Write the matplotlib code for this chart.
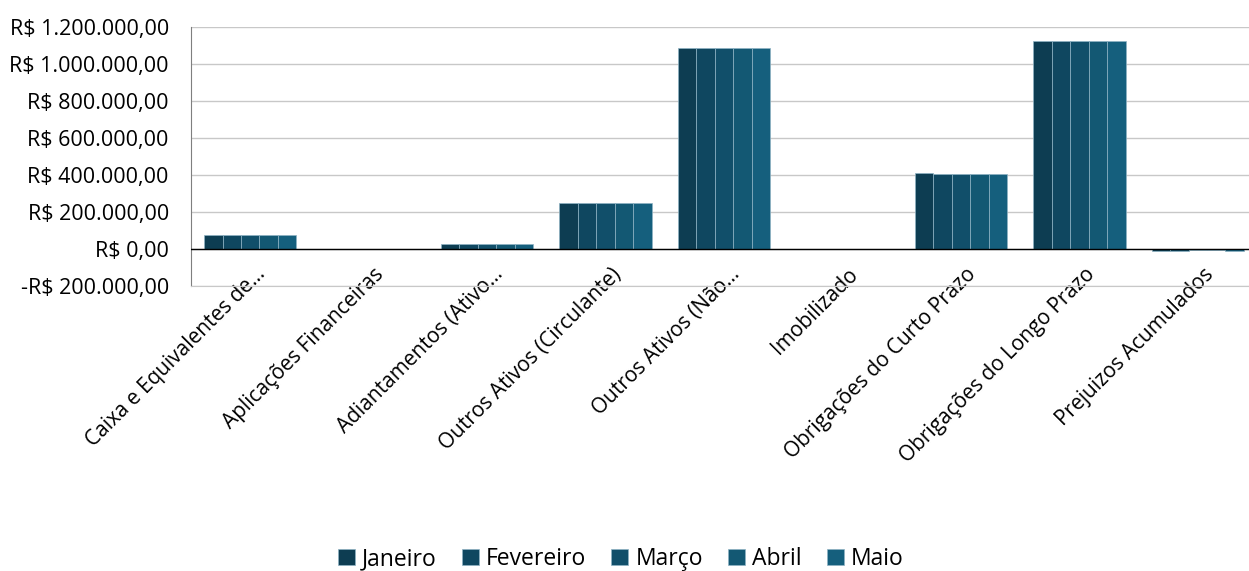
import numpy as np
from matplotlib import pyplot as plt
from matplotlib.ticker import FuncFormatter
from matplotlib.transforms import ScaledTranslation

categorias = [
    "Caixa e Equivalentes de…",
    "Aplicações Financeiras",
    "Adiantamentos (Ativo…",
    "Outros Ativos (Circulante)",
    "Outros Ativos (Não…",
    "Imobilizado",
    "Obrigações do Curto Prazo",
    "Obrigações do Longo Prazo",
    "Prejuizos Acumulados",
]
meses = ["Janeiro", "Fevereiro", "Março", "Abril", "Maio"]

janeiro = [76000, 0, 25000, 247000, 1087000, 0, 410000, 1122000, -9000]
fevereiro = [76000, 0, 25000, 247000, 1087000, 0, 408000, 1126000, -9000]
marco = [76000, 0, 25000, 247000, 1087000, 0, 408000, 1126000, -4000]
abril = [76000, 0, 25000, 247000, 1087000, 0, 408000, 1126000, -4000]
maio = [76000, 0, 25000, 247000, 1087000, 0, 408000, 1126000, -9000]
series = [janeiro, fevereiro, marco, abril, maio]

cores = ["#0d3d52", "#0f4760", "#114f6a", "#135873", "#155f7d"]

plt.rcParams['font.family'] = ['Open Sans', 'DejaVu Sans']

fig = plt.figure(figsize=(12.49, 5.71), dpi=100)
# a area do grafico passa um pouco da borda direita, como no original
ax = fig.add_axes([191 / 1249, 1 - 286 / 571, (1257 - 191) / 1249, (286 - 27) / 571])

x = np.arange(len(categorias))
largura = 0.78 / len(meses)
for i, (nome, vals) in enumerate(zip(meses, series)):
    ax.bar(x - 0.39 + largura * (i + 0.5), vals, largura, color=cores[i],
           edgecolor="#8fb3c4", linewidth=0.5, label=nome, zorder=3)

ax.set_xlim(-0.5, len(categorias) - 0.5)
ax.set_ylim(-200000, 1200000)
ax.set_yticks(np.arange(-200000, 1200001, 200000))


def reais(v, pos):
    s = f"{abs(v):,.2f}".replace(",", "X").replace(".", ",").replace("X", ".")
    return ("-R$ " if v < 0 else "R$ ") + s


ax.yaxis.set_major_formatter(FuncFormatter(reais))
ax.grid(axis="y", color="#c8c8c8", linewidth=1, zorder=0)
ax.axhline(0, color="black", linewidth=1, zorder=4)
for s in ["top", "right"]:
    ax.spines[s].set_visible(False)
ax.spines["bottom"].set_color("#c8c8c8")
ax.spines["left"].set_color("#7f7f7f")
ax.tick_params(axis="y", length=0, labelsize=15.5, pad=16)
ax.tick_params(axis="x", length=0, labelsize=15, pad=2)
ax.set_xticks(x)
ax.set_xticklabels(categorias, rotation=45, ha="right", rotation_mode="anchor")
# rotulos do eixo x ficam mais colados no eixo, como no Excel
desloc = ScaledTranslation(5 / 100, 25 / 100, fig.dpi_scale_trans)
for rot in ax.get_xticklabels():
    rot.set_transform(rot.get_transform() + desloc)

fig.legend(loc="center", bbox_to_anchor=(0.497, 1 - 559 / 571), ncol=5, frameon=False,
           fontsize=16.5, handlelength=0.75, handleheight=0.75, handletextpad=0.3,
           columnspacing=1.1)

fig.savefig("out.png", dpi=100)
